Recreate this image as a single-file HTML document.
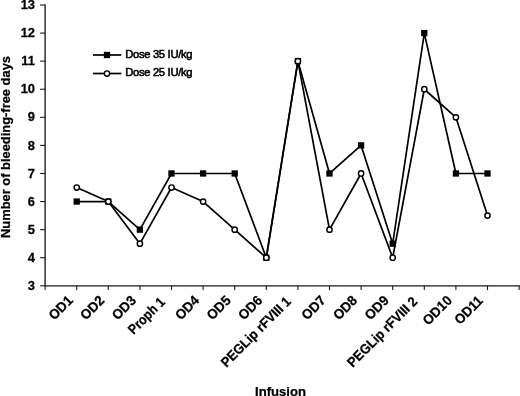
<!DOCTYPE html><html><head><meta charset="utf-8"><style>html,body{margin:0;padding:0;background:#fff}svg{display:block}text{font-family:"Liberation Sans",Arial,sans-serif;fill:#000}</style></head><body>
<svg width="520" height="396" viewBox="0 0 520 396">
<rect width="520" height="396" fill="#fff"/>
<g stroke="#181818" stroke-width="1.35" fill="none">
<line x1="45.1" y1="4.50" x2="45.1" y2="286.40000000000003"/>
<line x1="45.1" y1="285.8" x2="520" y2="285.8"/>
</g>
<g stroke="#1c1c1c" stroke-width="1.1" fill="none">
<line x1="40.1" y1="285.80" x2="45.1" y2="285.80"/>
<line x1="40.1" y1="257.72" x2="45.1" y2="257.72"/>
<line x1="40.1" y1="229.64" x2="45.1" y2="229.64"/>
<line x1="40.1" y1="201.56" x2="45.1" y2="201.56"/>
<line x1="40.1" y1="173.48" x2="45.1" y2="173.48"/>
<line x1="40.1" y1="145.40" x2="45.1" y2="145.40"/>
<line x1="40.1" y1="117.32" x2="45.1" y2="117.32"/>
<line x1="40.1" y1="89.24" x2="45.1" y2="89.24"/>
<line x1="40.1" y1="61.16" x2="45.1" y2="61.16"/>
<line x1="40.1" y1="33.08" x2="45.1" y2="33.08"/>
<line x1="40.1" y1="5.00" x2="45.1" y2="5.00"/>
<line x1="45.10" y1="285.8" x2="45.10" y2="290.1"/>
<line x1="76.70" y1="285.8" x2="76.70" y2="290.1"/>
<line x1="108.30" y1="285.8" x2="108.30" y2="290.1"/>
<line x1="139.90" y1="285.8" x2="139.90" y2="290.1"/>
<line x1="171.50" y1="285.8" x2="171.50" y2="290.1"/>
<line x1="203.10" y1="285.8" x2="203.10" y2="290.1"/>
<line x1="234.70" y1="285.8" x2="234.70" y2="290.1"/>
<line x1="266.30" y1="285.8" x2="266.30" y2="290.1"/>
<line x1="297.90" y1="285.8" x2="297.90" y2="290.1"/>
<line x1="329.50" y1="285.8" x2="329.50" y2="290.1"/>
<line x1="361.10" y1="285.8" x2="361.10" y2="290.1"/>
<line x1="392.70" y1="285.8" x2="392.70" y2="290.1"/>
<line x1="424.30" y1="285.8" x2="424.30" y2="290.1"/>
<line x1="455.90" y1="285.8" x2="455.90" y2="290.1"/>
<line x1="487.50" y1="285.8" x2="487.50" y2="290.1"/>
<line x1="519.10" y1="285.8" x2="519.10" y2="290.1"/>
</g>
<text transform="translate(35.00,289.90) scale(0.95,1)" font-size="13.6" text-anchor="end" font-weight="bold" stroke="#000" stroke-width="0.25">3</text>
<text transform="translate(35.00,261.82) scale(0.95,1)" font-size="13.6" text-anchor="end" font-weight="bold" stroke="#000" stroke-width="0.25">4</text>
<text transform="translate(35.00,233.74) scale(0.95,1)" font-size="13.6" text-anchor="end" font-weight="bold" stroke="#000" stroke-width="0.25">5</text>
<text transform="translate(35.00,205.66) scale(0.95,1)" font-size="13.6" text-anchor="end" font-weight="bold" stroke="#000" stroke-width="0.25">6</text>
<text transform="translate(35.00,177.58) scale(0.95,1)" font-size="13.6" text-anchor="end" font-weight="bold" stroke="#000" stroke-width="0.25">7</text>
<text transform="translate(35.00,149.50) scale(0.95,1)" font-size="13.6" text-anchor="end" font-weight="bold" stroke="#000" stroke-width="0.25">8</text>
<text transform="translate(35.00,121.42) scale(0.95,1)" font-size="13.6" text-anchor="end" font-weight="bold" stroke="#000" stroke-width="0.25">9</text>
<text transform="translate(35.00,93.34) scale(0.95,1)" font-size="13.6" text-anchor="end" font-weight="bold" stroke="#000" stroke-width="0.25">10</text>
<text transform="translate(35.00,65.26) scale(0.95,1)" font-size="13.6" text-anchor="end" font-weight="bold" stroke="#000" stroke-width="0.25">11</text>
<text transform="translate(35.00,37.18) scale(0.95,1)" font-size="13.6" text-anchor="end" font-weight="bold" stroke="#000" stroke-width="0.25">12</text>
<text transform="translate(35.00,9.10) scale(0.95,1)" font-size="13.6" text-anchor="end" font-weight="bold" stroke="#000" stroke-width="0.25">13</text>
<text transform="translate(73.70,301.30) rotate(-45) scale(0.97,1)" font-size="13.8" text-anchor="end" font-weight="bold" stroke="#000" stroke-width="0.25">OD1</text>
<text transform="translate(105.30,301.30) rotate(-45) scale(0.97,1)" font-size="13.8" text-anchor="end" font-weight="bold" stroke="#000" stroke-width="0.25">OD2</text>
<text transform="translate(136.90,301.30) rotate(-45) scale(0.97,1)" font-size="13.8" text-anchor="end" font-weight="bold" stroke="#000" stroke-width="0.25">OD3</text>
<text transform="translate(165.90,302.80) rotate(-45) scale(0.89,1)" font-size="13.8" text-anchor="end" font-weight="bold" stroke="#000" stroke-width="0.25">Proph 1</text>
<text transform="translate(200.10,301.30) rotate(-45) scale(0.97,1)" font-size="13.8" text-anchor="end" font-weight="bold" stroke="#000" stroke-width="0.25">OD4</text>
<text transform="translate(231.70,301.30) rotate(-45) scale(0.97,1)" font-size="13.8" text-anchor="end" font-weight="bold" stroke="#000" stroke-width="0.25">OD5</text>
<text transform="translate(263.30,301.30) rotate(-45) scale(0.97,1)" font-size="13.8" text-anchor="end" font-weight="bold" stroke="#000" stroke-width="0.25">OD6</text>
<text transform="translate(291.90,302.40) rotate(-45) scale(0.93,1)" font-size="13.8" text-anchor="end" font-weight="bold" stroke="#000" stroke-width="0.25">PEGLip rFVIII 1</text>
<text transform="translate(326.50,301.30) rotate(-45) scale(0.97,1)" font-size="13.8" text-anchor="end" font-weight="bold" stroke="#000" stroke-width="0.25">OD7</text>
<text transform="translate(358.10,301.30) rotate(-45) scale(0.97,1)" font-size="13.8" text-anchor="end" font-weight="bold" stroke="#000" stroke-width="0.25">OD8</text>
<text transform="translate(389.70,301.30) rotate(-45) scale(0.97,1)" font-size="13.8" text-anchor="end" font-weight="bold" stroke="#000" stroke-width="0.25">OD9</text>
<text transform="translate(418.30,302.40) rotate(-45) scale(0.93,1)" font-size="13.8" text-anchor="end" font-weight="bold" stroke="#000" stroke-width="0.25">PEGLip rFVIII 2</text>
<text transform="translate(452.90,301.30) rotate(-45) scale(0.97,1)" font-size="13.8" text-anchor="end" font-weight="bold" stroke="#000" stroke-width="0.25">OD10</text>
<text transform="translate(483.70,301.60) rotate(-45) scale(0.95,1)" font-size="13.8" text-anchor="end" font-weight="bold" stroke="#000" stroke-width="0.25">OD11</text>
<text transform="translate(280.50,395.60) scale(1.0,1)" font-size="13.1" text-anchor="middle" font-weight="bold" stroke="#000" stroke-width="0.25">Infusion</text>
<text transform="translate(10.00,147.00) rotate(-90) scale(1.0,1)" font-size="12.9" text-anchor="middle" font-weight="bold" stroke="#000" stroke-width="0.25">Number of bleeding-free days</text>
<polyline points="76.70,201.56 108.30,201.56 139.90,229.64 171.50,173.48 203.10,173.48 234.70,173.48 266.30,257.72 297.90,61.16 329.50,173.48 361.10,145.40 392.70,243.68 424.30,33.08 455.90,173.48 487.50,173.48" fill="none" stroke="#000" stroke-width="1.7" stroke-linejoin="round"/>
<polyline points="76.70,187.52 108.30,201.56 139.90,243.68 171.50,187.52 203.10,201.56 234.70,229.64 266.30,257.72 297.90,61.16 329.50,229.64 361.10,173.48 392.70,257.72 424.30,89.24 455.90,117.32 487.50,215.60" fill="none" stroke="#000" stroke-width="1.7" stroke-linejoin="round"/>
<rect x="73.55" y="198.41" width="6.3" height="6.3" fill="#000"/>
<rect x="105.15" y="198.41" width="6.3" height="6.3" fill="#000"/>
<rect x="136.75" y="226.49" width="6.3" height="6.3" fill="#000"/>
<rect x="168.35" y="170.33" width="6.3" height="6.3" fill="#000"/>
<rect x="199.95" y="170.33" width="6.3" height="6.3" fill="#000"/>
<rect x="231.55" y="170.33" width="6.3" height="6.3" fill="#000"/>
<rect x="263.15" y="254.57" width="6.3" height="6.3" fill="#000"/>
<rect x="294.75" y="58.01" width="6.3" height="6.3" fill="#000"/>
<rect x="326.35" y="170.33" width="6.3" height="6.3" fill="#000"/>
<rect x="357.95" y="142.25" width="6.3" height="6.3" fill="#000"/>
<rect x="389.55" y="240.53" width="6.3" height="6.3" fill="#000"/>
<rect x="421.15" y="29.93" width="6.3" height="6.3" fill="#000"/>
<rect x="452.75" y="170.33" width="6.3" height="6.3" fill="#000"/>
<rect x="484.35" y="170.33" width="6.3" height="6.3" fill="#000"/>
<circle cx="76.70" cy="187.52" r="2.65" fill="#fff" stroke="#000" stroke-width="1.45"/>
<circle cx="108.30" cy="201.56" r="2.65" fill="#fff" stroke="#000" stroke-width="1.45"/>
<circle cx="139.90" cy="243.68" r="2.65" fill="#fff" stroke="#000" stroke-width="1.45"/>
<circle cx="171.50" cy="187.52" r="2.65" fill="#fff" stroke="#000" stroke-width="1.45"/>
<circle cx="203.10" cy="201.56" r="2.65" fill="#fff" stroke="#000" stroke-width="1.45"/>
<circle cx="234.70" cy="229.64" r="2.65" fill="#fff" stroke="#000" stroke-width="1.45"/>
<circle cx="266.30" cy="257.72" r="2.65" fill="#fff" stroke="#000" stroke-width="1.45"/>
<circle cx="297.90" cy="61.16" r="2.65" fill="#fff" stroke="#000" stroke-width="1.45"/>
<circle cx="329.50" cy="229.64" r="2.65" fill="#fff" stroke="#000" stroke-width="1.45"/>
<circle cx="361.10" cy="173.48" r="2.65" fill="#fff" stroke="#000" stroke-width="1.45"/>
<circle cx="392.70" cy="257.72" r="2.65" fill="#fff" stroke="#000" stroke-width="1.45"/>
<circle cx="424.30" cy="89.24" r="2.65" fill="#fff" stroke="#000" stroke-width="1.45"/>
<circle cx="455.90" cy="117.32" r="2.65" fill="#fff" stroke="#000" stroke-width="1.45"/>
<circle cx="487.50" cy="215.60" r="2.65" fill="#fff" stroke="#000" stroke-width="1.45"/>
<line x1="93" y1="55" x2="121.3" y2="55" stroke="#000" stroke-width="1.7"/>
<rect x="103.85" y="51.85" width="6.3" height="6.3" fill="#000"/>
<line x1="93" y1="73.5" x2="121.3" y2="73.5" stroke="#000" stroke-width="1.7"/>
<circle cx="107" cy="73.5" r="2.65" fill="#fff" stroke="#000" stroke-width="1.45"/>
<text transform="translate(125.20,58.20) scale(1.0,1)" font-size="11.2" text-anchor="start" stroke="#000" stroke-width="0.55" letter-spacing="-0.3">Dose 35 IU/kg</text>
<text transform="translate(125.20,76.00) scale(1.0,1)" font-size="11.2" text-anchor="start" stroke="#000" stroke-width="0.55" letter-spacing="-0.3">Dose 25 IU/kg</text>
</svg></body></html>
